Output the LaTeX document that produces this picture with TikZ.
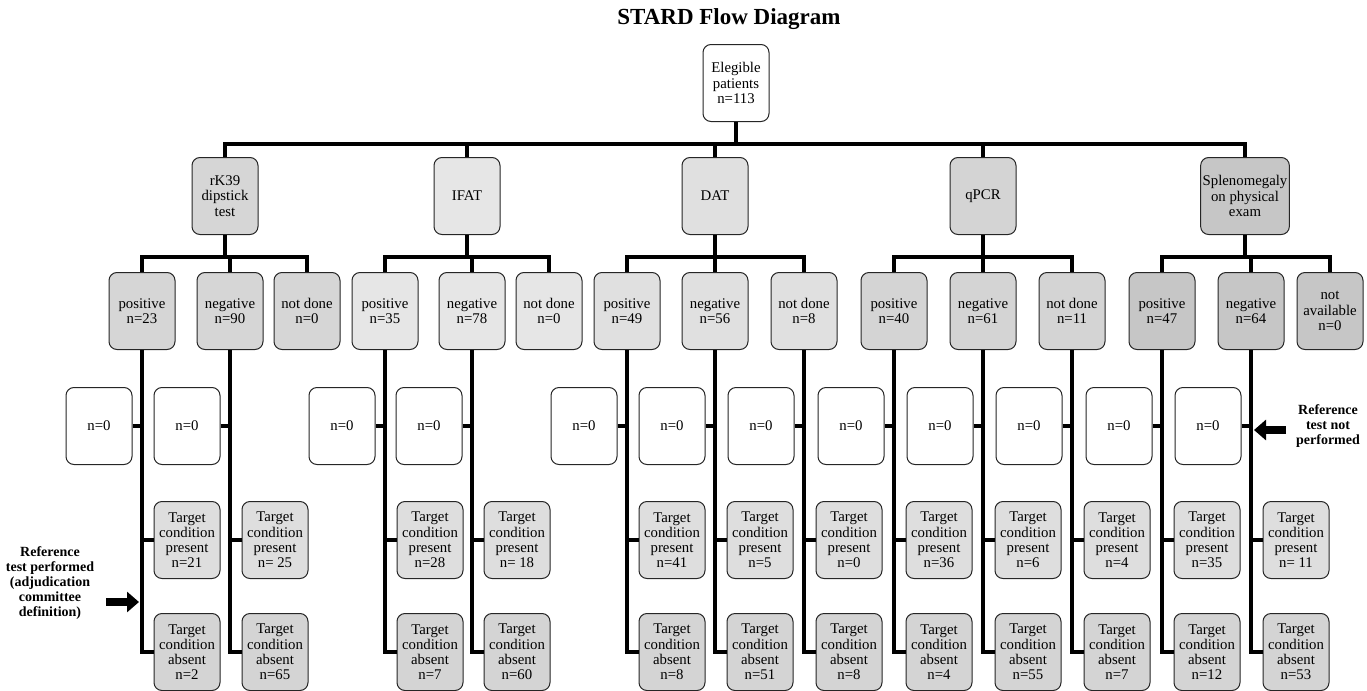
\documentclass[tikz,border=0pt]{standalone}
\usepackage{fontspec}
\setmainfont{Liberation Serif}
\usetikzlibrary{arrows.meta}

% Grautöne
\definecolor{rkgrau}{HTML}{D6D6D6}
\definecolor{ifgrau}{HTML}{E6E6E6}
\definecolor{dagrau}{HTML}{E0E0E0}
\definecolor{qpgrau}{HTML}{D4D4D4}
\definecolor{spgrau}{HTML}{C6C6C6}
\definecolor{zielgrau}{HTML}{DEDEDE}
\definecolor{abgrau}{HTML}{D4D4D4}

\tikzset{
  kasten/.style={draw=black!85, line width=0.5pt, rounded corners=4pt,
    minimum width=33pt, minimum height=38.5pt, inner sep=1pt,
    align=center, font=\fontsize{7.4}{7.6}\selectfont},
  leer/.style={kasten, fill=white},
  ziel/.style={kasten, fill=zielgrau},
  verb/.style={line width=1.6pt},
  hinweis/.style={font=\bfseries\fontsize{7}{7.6}\selectfont, align=center},
  blockpfeil/.style={line width=4pt, -{Triangle[length=6pt,width=10pt]}}
}

\begin{document}
\begin{tikzpicture}[x=0.5pt,y=-0.5pt] % Pixelkoordinaten
\useasboundingbox (0,0) rectangle (1367,691);

% Titel
\node[font=\bfseries\fontsize{11.5}{12}\selectfont] (titel) at (729,19) {STARD Flow Diagram};

% Hilfslinien (Sammelschienen)
\coordinate (bus1) at (0,144);
\coordinate (bus2) at (0,257);

% Wurzel
\node[leer] (wurzel) at (736,83) {Elegible\\patients\\n=113};

% Tests
\foreach \x/\nm/\txt/\fb in {225/rk/{rK39\\dipstick\\test}/rkgrau,
    467/ifat/{IFAT}/ifgrau, 715/dat/{DAT}/dagrau, 983/qpcr/{qPCR}/qpgrau}{
  \node[kasten,fill=\fb] (\nm) at (\x,196) {\txt};
}
\node[kasten,fill=spgrau,minimum width=43.5pt] (splen) at (1245,196) {Splenomegaly\\on physical\\exam};

\foreach \t in {rk,ifat,dat,qpcr,splen}{
  \draw[verb] (wurzel.south) -- (wurzel.south |- bus1) -| (\t.north);
}

% Ergebnisse der Tests
\foreach \x/\nm/\txt/\fb in {142/rp/{positive\\n=23}/rkgrau, 230/rn/{negative\\n=90}/rkgrau,
    307/rd/{not done\\n=0}/rkgrau,
    385/ifp/{positive\\n=35}/ifgrau, 472/ifn/{negative\\n=78}/ifgrau, 549/ifd/{not done\\n=0}/ifgrau,
    627/dp/{positive\\n=49}/dagrau, 715/dn/{negative\\n=56}/dagrau, 804/dd/{not done\\n=8}/dagrau,
    894/qp/{positive\\n=40}/qpgrau, 983/qn/{negative\\n=61}/qpgrau, 1072/qd/{not done\\n=11}/qpgrau,
    1162/sp/{positive\\n=47}/spgrau, 1251/sn/{negative\\n=64}/spgrau,
    1330/sa/{not\\available\\n=0}/spgrau}{
  \node[kasten,fill=\fb] (\nm) at (\x,311) {\txt};
}

\foreach \t/\k in {rk/rp, rk/rn, rk/rd, ifat/ifp, ifat/ifn, ifat/ifd,
    dat/dp, dat/dn, dat/dd, qpcr/qp, qpcr/qn, qpcr/qd, splen/sp, splen/sn, splen/sa}{
  \draw[verb] (\t.south) -- (\t.south |- bus2) -| (\k.north);
}

% Referenztest: n=0 links, Zielkondition rechts
\foreach \x/\nm/\p/\a in {142/rp/21/2, 230/rn/{\ 25}/65, 385/ifp/28/7, 472/ifn/{\ 18}/60,
    627/dp/41/8, 715/dn/5/51, 804/dd/0/8, 894/qp/36/4, 983/qn/6/55,
    1072/qd/4/7, 1162/sp/35/12, 1251/sn/{\ 11}/53}{
  \node[leer] (z\nm) at (\x-43,426) {n=0};
  \node[ziel] (pr\nm) at (\x+45,540) {Target\\condition\\present\\n=\p};
  \node[ziel,fill=abgrau] (ab\nm) at (\x+45,652) {Target\\condition\\absent\\n=\a};
  \draw[verb] (\nm.south) |- (ab\nm.west);
  \draw[verb] (z\nm.east) -- (z\nm.east -| \nm.south);
  \draw[verb] (\nm.south |- pr\nm.west) -- (pr\nm.west);
}

% Hinweise mit Pfeilen
\node[hinweis] (links) at (50,583) {Reference\\test performed\\(adjudication\\committee\\definition)};
\coordinate (lA) at (106,602);
\coordinate (lB) at (139,602);
\draw[blockpfeil] (lA) -- (lB);

\node[hinweis] (rechts) at (1328,426) {Reference\\test not\\performed};
\coordinate (rA) at (1286,430);
\coordinate (rB) at (1254,430);
\draw[blockpfeil] (rA) -- (rB);

\end{tikzpicture}
\end{document}
